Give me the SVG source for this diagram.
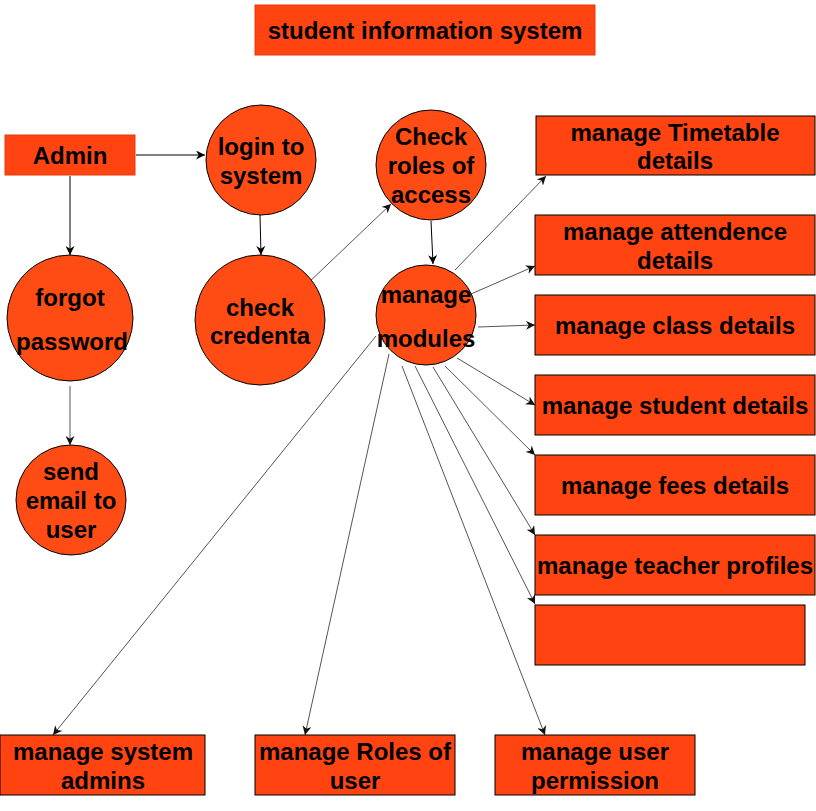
<svg xmlns="http://www.w3.org/2000/svg" width="816" height="811" viewBox="0 0 816 811">
<defs>
<style>
.t{font-family:"Liberation Sans",Arial,sans-serif;font-weight:bold;font-size:24px;fill:#000;text-anchor:middle}
.box{fill:#FF4411;stroke:#000;stroke-width:1}
.hbox{fill:#FF4411;stroke:#E03A0A;stroke-width:1}
.circ{fill:#FF4C14;stroke:#000;stroke-width:1}
.k{stroke:#000;stroke-width:1;fill:none;marker-end:url(#ak)}
.g{stroke:#555;stroke-width:1;fill:none;marker-end:url(#ag)}
</style>
<marker id="ak" viewBox="0 0 10 10" refX="10" refY="5" markerWidth="9" markerHeight="9" markerUnits="userSpaceOnUse" orient="auto"><path d="M0,0 L10,5 L0,10 L3,5 z" fill="#000"/></marker>
<marker id="ag" viewBox="0 0 10 10" refX="10" refY="5" markerWidth="9" markerHeight="9" markerUnits="userSpaceOnUse" orient="auto"><path d="M0,0 L10,5 L0,10 L3,5 z" fill="#111"/></marker>
</defs>
<rect width="816" height="811" fill="#fff"/>
<g id="connectors">
<line class="k" x1="136" y1="155" x2="205" y2="155"/>
<line class="k" x1="70" y1="176" x2="70" y2="255"/>
<line class="g" x1="70" y1="386" x2="70" y2="445"/>
<line class="k" x1="260" y1="215" x2="261" y2="255"/>
<line class="g" x1="306" y1="285" x2="391" y2="204"/>
<line class="k" x1="431" y1="221" x2="433" y2="264"/>
<line class="g" x1="455" y1="270" x2="546" y2="176"/>
<line class="g" x1="471" y1="294" x2="535" y2="266"/>
<line class="g" x1="478" y1="327" x2="535" y2="325"/>
<line class="g" x1="457" y1="358" x2="535" y2="405"/>
<line class="g" x1="445" y1="366" x2="535" y2="455"/>
<line class="g" x1="433" y1="367" x2="535" y2="535"/>
<line class="g" x1="415" y1="366" x2="535" y2="604"/>
<line class="g" x1="402" y1="366" x2="545" y2="735"/>
<line class="g" x1="389" y1="354" x2="305" y2="735"/>
<line class="g" x1="376" y1="336" x2="53" y2="735"/>
</g>
<g id="title"><rect class="hbox" x="255" y="5" width="340" height="50"/><text class="t" x="425" y="39">student information system</text></g>
<g id="admin"><rect class="hbox" x="5" y="135" width="130" height="40"/><text class="t" x="70" y="164">Admin</text></g>
<g id="login"><ellipse class="circ" cx="261" cy="160" rx="55" ry="55"/><text class="t" x="261" y="155">login to</text><text class="t" x="261" y="184">system</text></g>
<g id="checkroles"><ellipse class="circ" cx="431" cy="165" rx="55" ry="55"/><text class="t" x="431" y="145">Check</text><text class="t" x="431" y="174">roles of</text><text class="t" x="431" y="203">access</text></g>
<g id="forgot"><circle class="circ" cx="70" cy="318" r="63"/><text class="t" x="70" y="306">forgot</text><text class="t" x="72" y="350">password</text></g>
<g id="checkcred"><circle class="circ" cx="260" cy="320" r="65"/><text class="t" x="260" y="316">check</text><text class="t" x="260" y="344">credenta</text></g>
<g id="sendemail"><circle class="circ" cx="71" cy="500" r="55"/><text class="t" x="71" y="480">send</text><text class="t" x="71" y="509">email to</text><text class="t" x="71" y="538">user</text></g>
<g id="modules"><circle class="circ" cx="426" cy="315" r="50"/><text class="t" x="426" y="303">manage</text><text class="t" x="426" y="347">modules</text></g>
<g id="timetable"><rect class="box" x="536" y="116" width="279" height="59"/><text class="t" x="675" y="141">manage Timetable</text><text class="t" x="675" y="169">details</text></g>
<g id="attendence"><rect class="box" x="535" y="215" width="280" height="60"/><text class="t" x="675" y="240">manage attendence</text><text class="t" x="675" y="269">details</text></g>
<g id="class"><rect class="box" x="535" y="295" width="280" height="60"/><text class="t" x="675" y="334">manage class details</text></g>
<g id="student"><rect class="box" x="535" y="375" width="280" height="60"/><text class="t" x="675" y="414">manage student details</text></g>
<g id="fees"><rect class="box" x="535" y="455" width="280" height="60"/><text class="t" x="675" y="494">manage fees details</text></g>
<g id="teacher"><rect class="box" x="535" y="535" width="280" height="60"/><text class="t" x="675" y="574">manage teacher profiles</text></g>
<g id="empty"><rect class="box" x="535" y="605" width="270" height="60"/></g>
<g id="sysadmins"><rect class="box" x="0" y="735" width="205" height="60"/><text class="t" x="103" y="760">manage system</text><text class="t" x="103" y="789">admins</text></g>
<g id="roles"><rect class="box" x="255" y="735" width="200" height="60"/><text class="t" x="355" y="760">manage Roles of</text><text class="t" x="355" y="789">user</text></g>
<g id="permission"><rect class="box" x="495" y="735" width="200" height="60"/><text class="t" x="595" y="760">manage user</text><text class="t" x="595" y="789">permission</text></g>
</svg>
